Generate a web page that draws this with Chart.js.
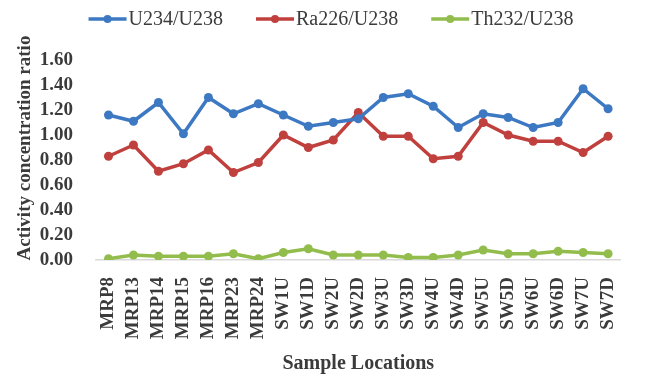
<!DOCTYPE html>
<html>
<head>
<meta charset="utf-8">
<script src="https://cdn.jsdelivr.net/npm/chart.js@4/dist/chart.umd.min.js"></script>
<style>
  html, body { margin: 0; padding: 0; background: #ffffff; }
  #wrap { width: 648px; height: 376px; position: relative; }
</style>
</head>
<body>
<div id="wrap"><canvas id="c" width="648" height="376"></canvas></div>
<script>
// Sampling sites
const locations = ['MRP8', 'MRP13', 'MRP14', 'MRP15', 'MRP16', 'MRP23', 'MRP24',
  'SW1U', 'SW1D', 'SW2U', 'SW2D', 'SW3U', 'SW3D', 'SW4U', 'SW4D',
  'SW5U', 'SW5D', 'SW6U', 'SW6D', 'SW7U', 'SW7D'];

// Activity ratios per site
const u234U238 = [1.16, 1.11, 1.26, 1.01, 1.30, 1.17, 1.25, 1.16, 1.07, 1.10, 1.13,
  1.30, 1.33, 1.23, 1.06, 1.17, 1.14, 1.06, 1.10, 1.37, 1.21];
const ra226U238 = [0.83, 0.92, 0.71, 0.77, 0.88, 0.70, 0.78, 1.00, 0.90, 0.96, 1.18,
  0.99, 0.99, 0.81, 0.83, 1.10, 1.00, 0.95, 0.95, 0.86, 0.99];
const th232U238 = [0.01, 0.04, 0.03, 0.03, 0.03, 0.05, 0.01, 0.06, 0.09, 0.04, 0.04,
  0.04, 0.02, 0.02, 0.04, 0.08, 0.05, 0.05, 0.07, 0.06, 0.05];

// Y axis tick values
const yTicks = [0.0, 0.2, 0.4, 0.6, 0.8, 1.0, 1.2, 1.4, 1.6];

const seriesNames = ['U234/U238', 'Ra226/U238', 'Th232/U238'];
const seriesColors = ['#3d78c2', '#c0403e', '#92bd4c'];

const textColor = '#3b3b3b';
const serif = "'Liberation Serif', 'Times New Roman', serif";

function lineSeries(i, data) {
  return {
    label: seriesNames[i],
    data: data,
    borderColor: seriesColors[i],
    backgroundColor: seriesColors[i],
    borderWidth: 3.5,
    pointRadius: 4.5,
    pointHoverRadius: 4.5,
    pointBorderWidth: 0,
    pointBackgroundColor: seriesColors[i],
    tension: 0,
    fill: false
  };
}

// Legend row: short line with a dot, then the series name
const legendRow = {
  id: 'legendRow',
  afterDraw(chart) {
    const ctx = chart.ctx;
    ctx.save();
    ctx.font = "20px " + serif;
    ctx.textBaseline = 'middle';
    const lineLen = 38, gapText = 2, gapItem = 33, cy = 19;
    const items = chart.data.datasets.map(ds => ({
      text: ds.label, color: ds.borderColor, w: ctx.measureText(ds.label).width
    }));
    let total = 0;
    items.forEach((it, k) => { total += lineLen + gapText + it.w + (k ? gapItem : 0); });
    let x = 331 - total / 2;
    items.forEach(it => {
      ctx.strokeStyle = it.color;
      ctx.lineWidth = 3.5;
      ctx.beginPath();
      ctx.moveTo(x, cy);
      ctx.lineTo(x + lineLen, cy);
      ctx.stroke();
      ctx.fillStyle = it.color;
      ctx.beginPath();
      ctx.arc(x + lineLen / 2, cy, 4, 0, Math.PI * 2);
      ctx.fill();
      ctx.fillStyle = textColor;
      ctx.textAlign = 'left';
      ctx.fillText(it.text, x + lineLen + gapText, cy + 1);
      x += lineLen + gapText + it.w + gapItem;
    });
    ctx.restore();
  }
};

// Vertical axis title
const yTitle = {
  id: 'yTitle',
  afterDraw(chart) {
    const ctx = chart.ctx;
    ctx.save();
    ctx.translate(25, 148);
    ctx.rotate(-Math.PI / 2);
    ctx.font = "bold 19px " + serif;
    ctx.fillStyle = textColor;
    ctx.textAlign = 'center';
    ctx.textBaseline = 'middle';
    ctx.fillText('Activity concentration ratio', 0, 0);
    ctx.restore();
  }
};

new Chart(document.getElementById('c'), {
  type: 'line',
  data: {
    labels: locations,
    datasets: [
      lineSeries(0, u234U238),
      lineSeries(1, ra226U238),
      lineSeries(2, th232U238)
    ]
  },
  options: {
    responsive: false,
    animation: false,
    devicePixelRatio: 1,
    layout: { padding: { top: 60, left: 0, right: 2, bottom: 0 } },
    plugins: {
      legend: { display: false },
      tooltip: { enabled: false }
    },
    scales: {
      x: {
        type: 'category',
        offset: true,
        grid: { display: true, color: 'rgba(0,0,0,0)', drawTicks: false },
        border: { display: true, color: '#d9d9d9', width: 1.5 },
        ticks: {
          autoSkip: false,
          minRotation: 90,
          maxRotation: 90,
          padding: 17,
          color: textColor,
          font: { family: serif, size: 19, weight: 'bold' }
        },
        title: {
          display: true,
          text: 'Sample Locations',
          color: textColor,
          padding: { top: 0, bottom: 0 },
          font: { family: serif, size: 20, weight: 'bold' }
        },
        afterFit(scale) { scale.height = 116; }
      },
      y: {
        min: yTicks[0],
        max: yTicks[yTicks.length - 1],
        grid: { display: false },
        border: { display: false },
        afterBuildTicks(scale) {
          scale.ticks = yTicks.map(v => ({ value: v }));
        },
        ticks: {
          autoSkip: false,
          padding: 15,
          color: textColor,
          font: { family: serif, size: 19, weight: 'bold', lineHeight: 1 },
          callback: v => Number(v).toFixed(2)
        },
        afterFit(scale) { scale.width = 96; }
      }
    }
  },
  plugins: [legendRow, yTitle]
});
</script>
</body>
</html>
